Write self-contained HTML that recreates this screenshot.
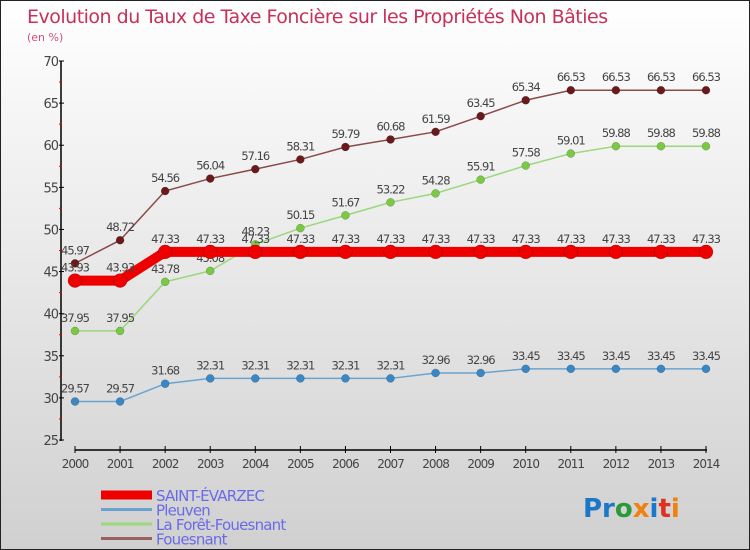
<!DOCTYPE html>
<html><head><meta charset="utf-8"><style>
body{margin:0;}
#wrap{position:relative;width:748px;height:548px;border:1px solid #222;background:linear-gradient(#ffffff,#d0d0d0);font-family:"DejaVu Sans","Liberation Sans",sans-serif;overflow:hidden}
svg text{font-family:"DejaVu Sans","Liberation Sans",sans-serif;}
</style></head><body>
<div id="wrap">
<svg id="chart" width="748" height="548">
<text x="26" y="22" font-size="19" fill="#c8305a" letter-spacing="-0.5">Evolution du Taux de Taxe Foncière sur les Propriétés Non Bâties</text>
<text x="26" y="40" font-size="11" fill="#d0507a">(en %)</text>
<g id="axes"></g>
<g id="series"></g>
<g id="legend"></g>
<text x="582" y="516" font-size="26" font-weight="bold" font-family="Liberation Sans"><tspan fill="#1a77c9">Pr</tspan><tspan fill="#2a9a3a">o</tspan><tspan fill="#f08010">x</tspan><tspan fill="#1a77c9">i</tspan><tspan fill="#e03020">t</tspan><tspan fill="#f08010">i</tspan></text>
</svg></div>
<script>
const years=[2000,2001,2002,2003,2004,2005,2006,2007,2008,2009,2010,2011,2012,2013,2014];
const yTicks=[25,30,35,40,45,50,55,60,65,70];
const saint=[43.93,43.93,47.33,47.33,47.33,47.33,47.33,47.33,47.33,47.33,47.33,47.33,47.33,47.33,47.33];
const pleuven=[29.57,29.57,31.68,32.31,32.31,32.31,32.31,32.31,32.96,32.96,33.45,33.45,33.45,33.45,33.45];
const laforet=[37.95,37.95,43.78,45.08,48.23,50.15,51.67,53.22,54.28,55.91,57.58,59.01,59.88,59.88,59.88];
const fouesnant=[45.97,48.72,54.56,56.04,57.16,58.31,59.79,60.68,61.59,63.45,65.34,66.53,66.53,66.53,66.53];
const NS="http://www.w3.org/2000/svg";
const xS=i=>74+i*(705-74)/(years.length-1);
const yS=v=>439-(v-25)*(439-60)/45;
function mk(tag,attrs,parent,txt){const e=document.createElementNS(NS,tag);for(const k in attrs)e.setAttribute(k,attrs[k]);if(txt!==undefined)e.textContent=txt;parent.appendChild(e);return e;}
const ax=document.getElementById('axes');
let e=mk('line',{x1:60,y1:60,x2:60,y2:440,stroke:'#000','stroke-width':1.5},ax);


e=mk('line',{x1:74,y1:449,x2:706,y2:449,stroke:'#000','stroke-width':1.5},ax);


yTicks.forEach(t=>{const y=yS(t);mk('line',{x1:58,y1:y,x2:63,y2:y,stroke:'#000'},ax);
 if(t<70)mk('line',{x1:58,y1:yS(t+2.5),x2:61,y2:yS(t+2.5),stroke:'#e00'},ax);
 e=mk('text',{x:57,y:y+5,'font-size':13,fill:'#444','text-anchor':'end','letter-spacing':-1},ax,String(t));
 
 });
years.forEach((yr,i)=>{const x=xS(i);mk('line',{x1:x,y1:445,x2:x,y2:452,stroke:'#000'},ax);
 e=mk('text',{x:x,y:467,'font-size':12,fill:'#444','text-anchor':'middle','letter-spacing':-1},ax,String(yr));
 
 });
const sg=document.getElementById('series');
function drawSeries(vals,name,lc,lw,mc,r){
 const g=mk('g',{},sg);
 
 
 const p=mk('polyline',{points:vals.map((v,i)=>xS(i)+','+yS(v)).join(' '),fill:'none',stroke:lc,'stroke-width':lw},g);
 
 
 vals.forEach((v,i)=>{const c=mk('circle',{cx:xS(i),cy:yS(v),r:r,fill:mc,stroke:'rgba(0,0,0,0.3)','stroke-width':0.5},g);
  
  
  const t=mk('text',{x:xS(i),y:yS(v)-9,'font-size':11.5,fill:'#444','text-anchor':'middle','letter-spacing':-1},g,v.toFixed(2).replace(/0$/,''));
  
  });
}
drawSeries(pleuven,'pleuven','#6aa3d0',1.5,'#3a87c4',4);
drawSeries(laforet,'la-foret-fouesnant','#9ad87a',1.5,'#7ac943',4);
drawSeries(fouesnant,'fouesnant','#8a4a4a',1.5,'#6a1a1a',4);
drawSeries(saint,'saint-evarzec','#ee0000',10,'#ee0000',7);
const lg=document.getElementById('legend');
const leg=[['SAINT-ÉVARZEC','#ee0000',9],['Pleuven','#6aa3d0',3],['La Forêt-Fouesnant','#9ad87a',3],['Fouesnant','#9a6060',3]];
leg.forEach((l,i)=>{const y=494+i*14.5;
 e=mk('line',{x1:100,y1:y,x2:151,y2:y,stroke:l[1],'stroke-width':l[2]},lg);
 
 
 e=mk('text',{x:155,y:y+6,'font-size':15,fill:'#6a6ae8','letter-spacing':-0.8},lg,l[0]);
 
 });
</script>
</body></html>
